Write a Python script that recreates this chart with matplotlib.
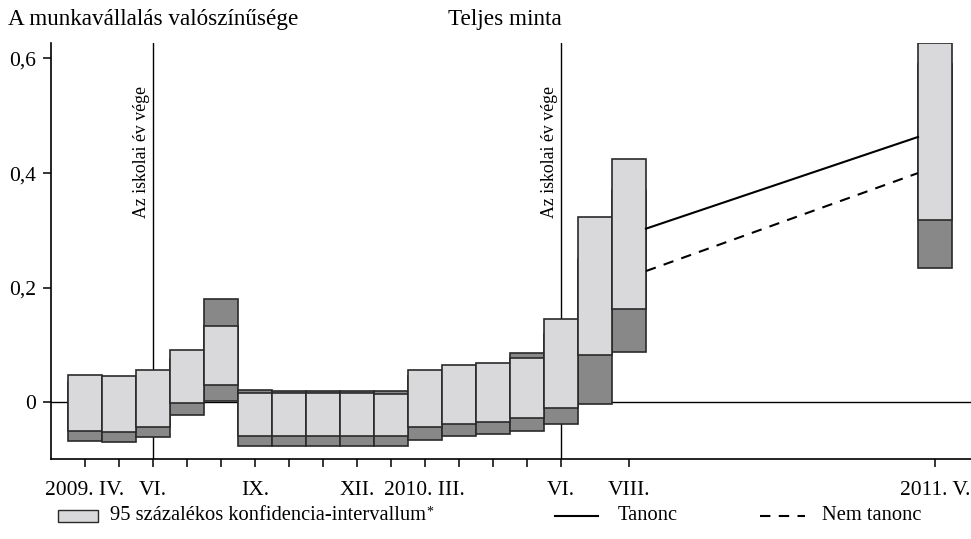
import matplotlib
matplotlib.use("Agg")
import matplotlib.pyplot as plt
from matplotlib.patches import Rectangle
from matplotlib.lines import Line2D
from matplotlib.transforms import ScaledTranslation

plt.rcParams['font.family'] = ['Liberation Serif', 'DejaVu Serif']

# month index: 0 = 2009 April, 25 = 2011 May
months = [0, 1, 2, 3, 4, 5, 6, 7, 8, 9, 10, 11, 12, 13, 14, 15, 16, 25]

# Tanonc CI (light boxes, drawn on top)
tan_lo = [-0.050, -0.052, -0.044, -0.001, 0.030, -0.059, -0.059, -0.058, -0.058, -0.059,
          -0.043, -0.038, -0.034, -0.028, -0.010, 0.083, 0.162, 0.318]
tan_hi = [0.048, 0.046, 0.056, 0.091, 0.133, 0.017, 0.016, 0.017, 0.016, 0.015,
          0.057, 0.065, 0.069, 0.078, 0.145, 0.323, 0.424, 0.627]
# Nem tanonc CI (dark boxes, underneath)
nem_lo = [-0.067, -0.069, -0.061, -0.023, 0.003, -0.076, -0.077, -0.076, -0.076, -0.076,
          -0.065, -0.058, -0.055, -0.050, -0.038, -0.003, 0.087, 0.234]
nem_hi = [0.035, 0.033, 0.042, 0.075, 0.180, 0.021, 0.020, 0.020, 0.020, 0.019,
          0.045, 0.052, 0.060, 0.086, 0.120, 0.250, 0.370, 0.590]

# point estimates joined between 2010 Aug and 2011 May
line_x = [16.5, 24.5]
tanonc_line = [0.303, 0.463]
nem_line = [0.229, 0.400]

tick_pos = [0, 1, 2, 3, 4, 5, 6, 7, 8, 9, 10, 11, 12, 13, 14, 16, 25]
tick_lab = {0: "2009. IV.", 2: "VI.", 5: "IX.", 8: "XII.", 11: "2010. III.",
            14: "VI.", 16: "VIII.", 25: "2011. V."}
school_end = [2, 14]

LIGHT = "#d9d9db"
DARK = "#888888"
EDGE = "#2a2a2a"

fig = plt.figure(figsize=(9.71, 5.39), dpi=100)
ax = fig.add_axes([0.0525, 0.1484, 0.9475, 0.7718])

for m, lo, hi in zip(months, nem_lo, nem_hi):
    ax.add_patch(Rectangle((m - 0.5, lo), 1, hi - lo, facecolor=DARK,
                           edgecolor=EDGE, lw=1.2, zorder=3))
for m, lo, hi in zip(months, tan_lo, tan_hi):
    ax.add_patch(Rectangle((m - 0.5, lo), 1, hi - lo, facecolor=LIGHT,
                           edgecolor=EDGE, lw=1.2, zorder=4))

ax.plot(line_x, tanonc_line, color="black", lw=1.5, zorder=5)
ax.plot(line_x, nem_line, color="black", lw=1.5, ls=(0, (5, 4)), zorder=5)

ax.axhline(0, color="black", lw=1.0, zorder=1)
for x in school_end:
    ax.axvline(x, color="black", lw=1.0, zorder=1)
    ax.text(x - 0.08, 0.552, "Az iskolai év vége", rotation=90, ha="right", va="top",
            fontsize=12.8)

ax.set_xlim(-1, 26.06)
ax.set_ylim(-0.099, 0.627)
ax.spines[['top', 'right']].set_visible(False)
for s in ['left', 'bottom']:
    ax.spines[s].set_linewidth(1.2)

ax.set_yticks([0, 0.2, 0.4, 0.6])
ax.set_yticklabels(["0", "0,2", "0,4", "0,6"])
ax.set_xticks(tick_pos)
ax.set_xticklabels([tick_lab.get(p, "") for p in tick_pos])
ax.tick_params(axis="both", direction="out", length=6, width=1.1, labelsize=15.5)
ax.tick_params(axis="x", pad=10)
ax.tick_params(axis="y", pad=5)
for t, p in zip(ax.get_xticklabels(), tick_pos):
    if p == 11:
        t.set_horizontalalignment("right")
        t.set_transform(t.get_transform() + ScaledTranslation(4 / 72, 0, fig.dpi_scale_trans))

fig.text(0.008, 0.945, "A munkavállalás valószínűsége", fontsize=16.7, va="bottom")
fig.text(0.52, 0.945, "Teljes minta", fontsize=16.7, va="bottom", ha="center")

# legend row
ly = 1 - 516 / 539
fig.add_artist(Rectangle((58 / 971, ly - 6 / 539), 40 / 971, 12 / 539, transform=fig.transFigure,
                         facecolor=LIGHT, edgecolor=EDGE, lw=1.0))
t1 = fig.text(110 / 971, ly, "95 százalékos konfidencia-intervallum", fontsize=14.8, va="center")
ax.annotate("*", xy=(1.0, 0.72), xycoords=t1, fontsize=10, ha="left", va="center",
            annotation_clip=False)
fig.add_artist(Line2D([555 / 971, 598 / 971], [ly, ly], transform=fig.transFigure,
                      color="black", lw=1.5))
fig.text(618 / 971, ly, "Tanonc", fontsize=14.8, va="center")
fig.add_artist(Line2D([760 / 971, 805 / 971], [ly, ly], transform=fig.transFigure,
                      color="black", lw=1.5, ls=(0, (5, 4))))
fig.text(822 / 971, ly, "Nem tanonc", fontsize=14.8, va="center")

fig.savefig("out.png", dpi=100)
